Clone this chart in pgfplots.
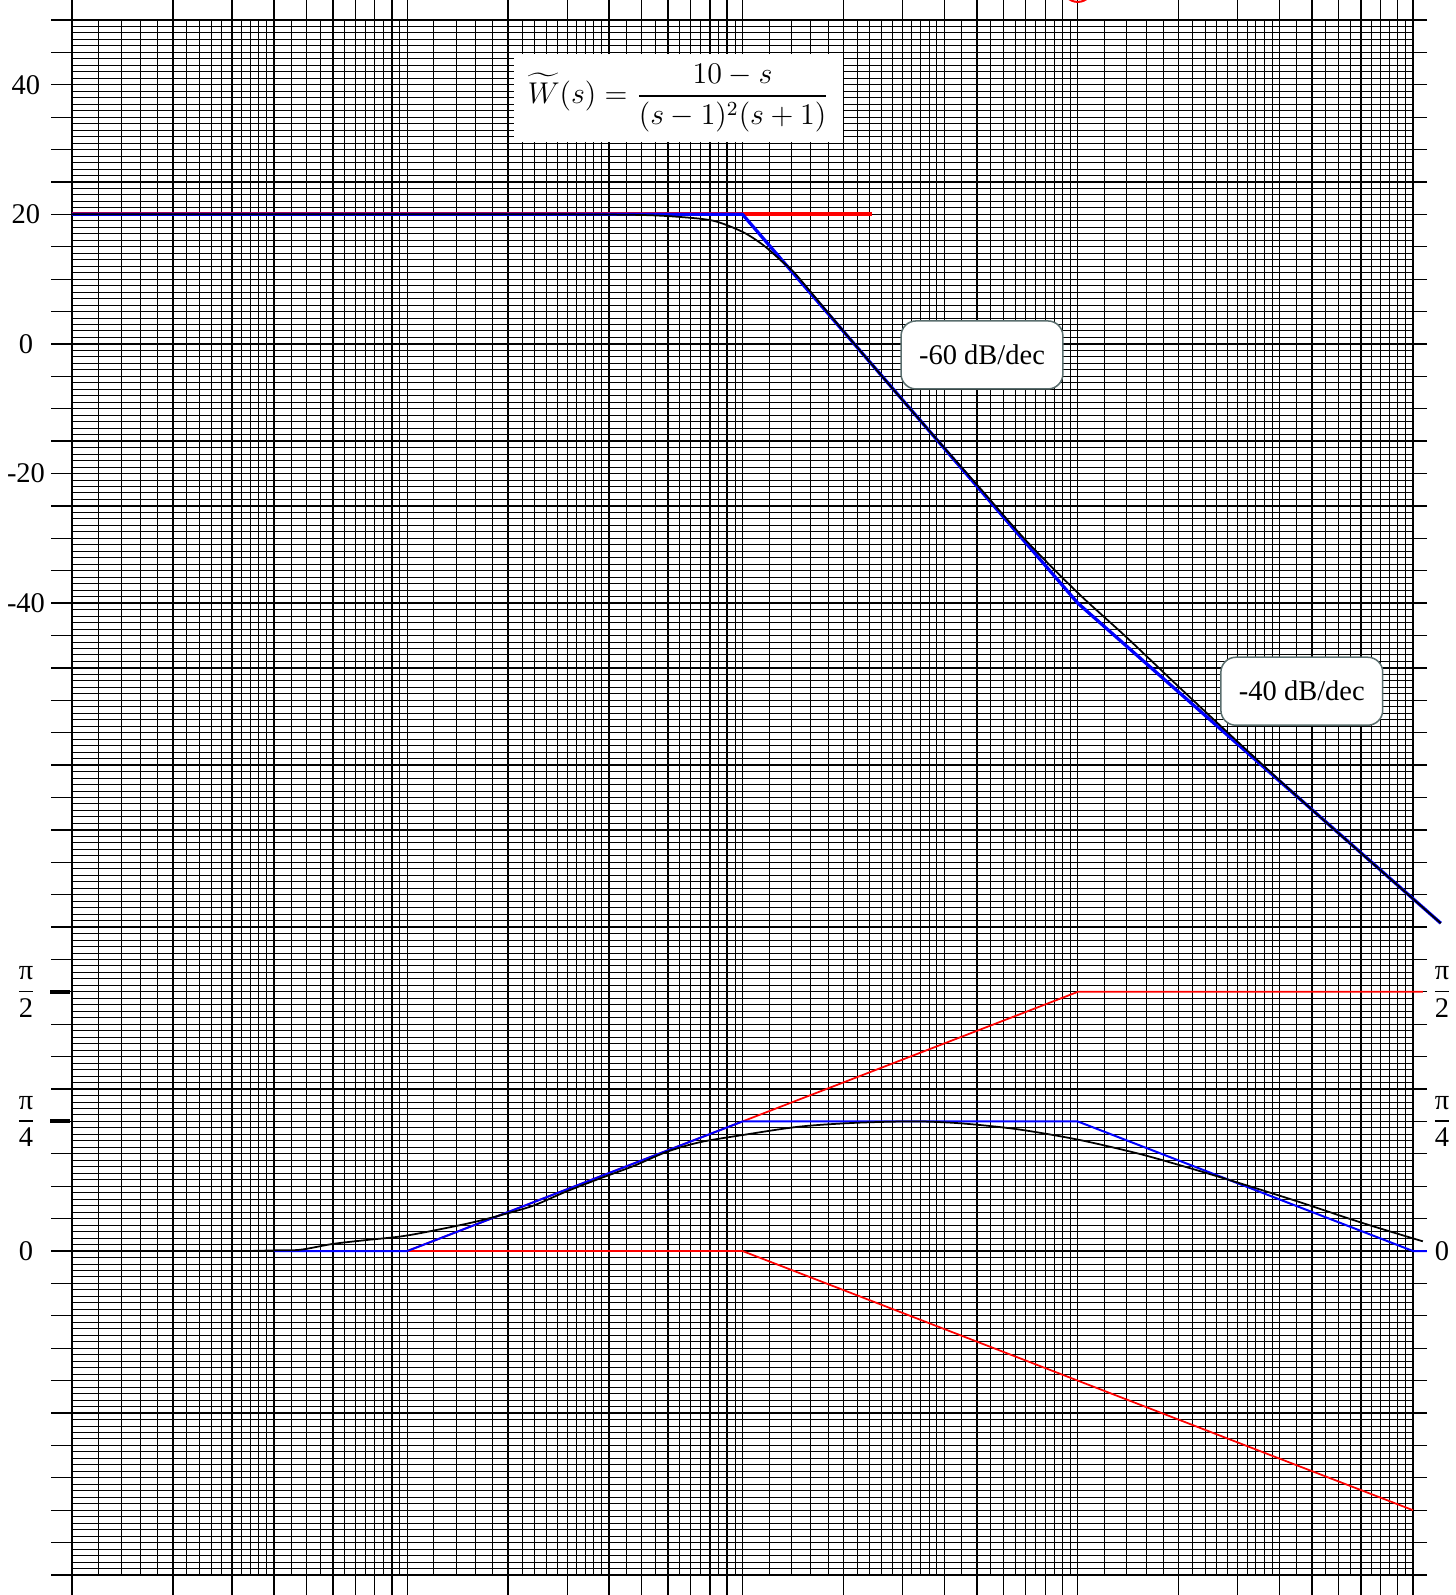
\documentclass[border=0pt]{standalone}
\usepackage{fontspec}
\setmainfont{Liberation Serif}
\usepackage{amsmath}
\usepackage{pgfplots}
\pgfplotsset{compat=1.18}
\definecolor{boxgray}{RGB}{90,110,110}
\begin{document}
\begin{tikzpicture}
% minor vertical lines (behind)
\begin{axis}[
  name=minorv,
  at={(0,0)}, anchor=south west,
  scale only axis,
  width=536.4pt, height=622pt,
  xmode=log, xmin=0.01, xmax=100,
  ymin=-190, ymax=50,
  axis line style={draw=none},
  xtick={0.012,0.014,0.016,0.018,0.022,0.024,0.026,0.028,0.032,0.034,0.036,0.038,0.045,0.055,0.065,0.075,0.085,0.095,
               0.12,0.14,0.16,0.18,0.22,0.24,0.26,0.28,0.32,0.34,0.36,0.38,0.45,0.55,0.65,0.75,0.85,0.95,
               1.2,1.4,1.6,1.8,2.2,2.4,2.6,2.8,3.2,3.4,3.6,3.8,4.5,5.5,6.5,7.5,8.5,9.5,
               12,14,16,18,22,24,26,28,32,34,36,38,45,55,65,75,85,95},
  ytick=\empty, xticklabels={},
  major tick length=0pt, minor tick length=0pt,
  minor x tick num=0,
  xmajorgrids,
  major x grid style={black, line width=0.38pt},
]
\end{axis}
% right extensions of the major horizontal lines
\begin{axis}[
  at={(0,0)}, anchor=south west,
  scale only axis,
  width=536.4pt, height=622pt,
  xmin=0, xmax=1, ymin=-190, ymax=50,
  axis line style={draw=none},
  xtick=\empty,
  ytick={-190,-185,...,50}, yticklabels={},
  minor y tick num=0,
  ytick pos=right, tick align=outside,
  major tick length=5.6pt, minor tick length=0pt,
  ytick style={black, line width=0.5pt},
]
\end{axis}
\begin{axis}[
  name=main,
  at={(0,0)}, anchor=south west,
  scale only axis,
  width=536.4pt, height=622pt,
  xmode=log, xmin=0.01, xmax=100,
  ymin=-190, ymax=50,
  clip=false,
  axis line style={draw=none},
  xtick={0.01,0.02,0.03,0.04,0.05,0.06,0.07,0.08,0.09,
         0.1,0.2,0.3,0.4,0.5,0.6,0.7,0.8,0.9,
         1,2,3,4,5,6,7,8,9,
         10,20,30,40,50,60,70,80,90,100},
  minor x tick num=0,
  ytick={-190,-185,...,50},
  minor y tick num=4,
  xticklabels={}, yticklabels={},
  tick align=outside,
  xtick pos=both, ytick pos=left,
  major tick length=8.4pt, minor tick length=0pt,
  xtick style={black, line width=0.55pt},
  ytick style={black, line width=0.5pt},
  xmajorgrids, ymajorgrids, yminorgrids,
  major x grid style={black, line width=0.55pt},
  major y grid style={black, line width=0.5pt},
  minor y grid style={black, line width=0.38pt},
]
% magnitude
\addplot[red, line width=1.5pt] coordinates {(0.01,20) (2.43,20)};
\addplot[blue, line width=1.3pt] coordinates {(0.01,20) (1,20) (10,-40) (121,-89.4)};
\addplot[black, line width=0.7pt, smooth] coordinates {
 (0.01,20) (0.1,20) (0.3,20) (0.5,19.9) (0.65,19.6) (0.82,19.0) (1.0,17.3)
 (1.15,15.3) (1.3,12.9) (1.45,10.6) (2.0,2.0) (3.16,-10) (5.0,-21.7)
 (7.0,-30.3) (10,-38.4) (14,-45.3) (20,-52.9) (30,-61.4) (50,-71.9) (121,-89.4)};
% phase
\addplot[red, line width=0.7pt] coordinates {(0.1,-140) (1,-140) (100,-180)};
\addplot[red, line width=0.7pt] coordinates {(0.1,-140) (10,-100) (107,-100)};
\addplot[blue, line width=0.8pt] coordinates {(0.04,-140) (0.1,-140) (1,-120) (10,-120) (100,-140) (110,-140)};
\addplot[black, line width=0.7pt, smooth] coordinates {
 (0.0092,-140) (0.03,-140) (0.04,-139.9) (0.048,-139.8) (0.06,-138.9) (0.0757,-138.3)
 (0.1,-137.6) (0.15,-135.8) (0.189,-134.5) (0.2375,-133) (0.2986,-130.8)
 (0.3757,-128.8) (0.472,-126.9) (0.594,-124.7) (0.747,-123.2) (1.0,-122.1)
 (1.48,-120.8) (2.2,-120.2) (3.29,-120.0) (4.5,-120.3) (6.6,-121.2) (10,-122.8)
 (15,-124.9) (20,-126.7) (28.6,-129.1) (45,-132.3) (70,-135.6) (107,-138.5)};
% left bars
\addplot[black, line width=1.6pt] coordinates {(0.0086,-100) (0.00986,-100)};
\addplot[black, line width=1.6pt] coordinates {(0.0086,-120) (0.00986,-120)};
% red circle
\addplot[red, only marks, mark=o, mark size=6pt, line width=0.8pt] coordinates {(10,55.1)};
% annotations
\node[fill=white, inner xsep=5.5pt, inner ysep=4pt, font=\fontsize{11.5}{14}\selectfont]
  at (axis cs:0.645,38) {$\widetilde{W}(s)=\dfrac{10-s}{(s-1)^2(s+1)}$};
\node[draw=boxgray, line width=0.6pt, fill=white, rounded corners=6pt, inner xsep=7.2pt,
  minimum height=27.2pt, font=\fontsize{11.4}{13}\selectfont\rmfamily]
  at (axis cs:5.18,-1.7) {-60 dB/dec};
\node[draw=boxgray, line width=0.6pt, fill=white, rounded corners=6pt, inner xsep=7.2pt,
  minimum height=27.2pt, font=\fontsize{11.4}{13}\selectfont\rmfamily]
  at (axis cs:46.6,-53.6) {-40 dB/dec};
\end{axis}
% left labels
\begin{axis}[
  at={(main.south west)}, anchor=south west,
  scale only axis, width=536.4pt, height=622pt,
  xmin=0, xmax=1, ymin=-190, ymax=50,
  axis line style={draw=none}, xtick=\empty,
  ytick={40,20,0,-20,-40,-100,-120,-140},
  yticklabels={40,20,0,-20,-40,$\dfrac{\text{π}}{\text{2}}$,$\dfrac{\text{π}}{\text{4}}$,0},
  ytick pos=left, major tick length=0pt,
  yticklabel style={anchor=center, xshift=-18.4pt, font=\fontsize{11.4}{13}\selectfont\rmfamily},
]
\end{axis}
% right labels
\begin{axis}[
  at={(main.south west)}, anchor=south west,
  scale only axis, width=536.4pt, height=622pt,
  xmin=0, xmax=1, ymin=-190, ymax=50,
  axis line style={draw=none}, xtick=\empty,
  ytick={-100,-120,-140},
  yticklabels={$\dfrac{\text{π}}{\text{2}}$,$\dfrac{\text{π}}{\text{4}}$,0},
  ytick pos=right, yticklabel pos=right, major tick length=0pt,
  yticklabel style={anchor=center, xshift=11.6pt, font=\fontsize{11.4}{13}\selectfont\rmfamily},
]
\end{axis}
\pgfresetboundingbox
\path[use as bounding box] ([shift={(-28.8pt,-8pt)}]main.south west) rectangle ([shift={(16.8pt,8pt)}]main.north east);
\end{tikzpicture}
\end{document}
